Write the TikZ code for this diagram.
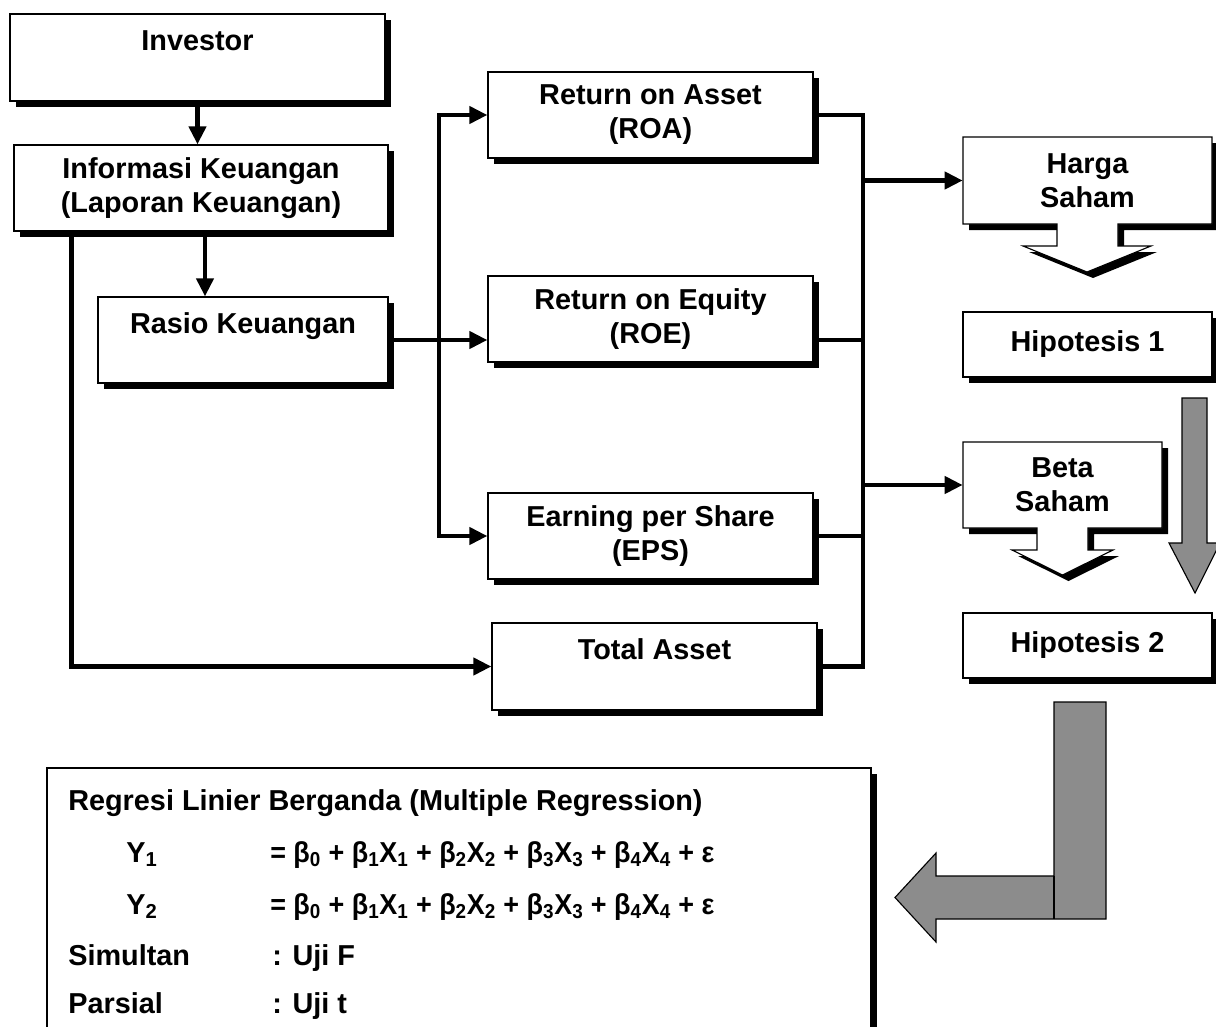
\documentclass[tikz,border=0pt]{standalone}
\usepackage{fontspec}
\usepackage{graphicx}
\setmainfont{Liberation Sans}
\usetikzlibrary{arrows.meta}
\usetikzlibrary{shadows}

\newdimen\pxu \pxu=0.025cm
\newcommand{\regline}{\scalebox{0.935}[1]{= β\textsubscript{0} + β\textsubscript{1}X\textsubscript{1} + β\textsubscript{2}X\textsubscript{2} + β\textsubscript{3}X\textsubscript{3} + β\textsubscript{4}X\textsubscript{4} + ε}}
\tikzset{
  box/.style={draw, line width=0.8pt, fill=white, align=center, inner sep=0pt,
    font=\fontsize{20.5}{24.2}\selectfont\bfseries,
    drop shadow={shadow xshift=6\pxu, shadow yshift=-6\pxu, opacity=1, fill=black}},
  boxtext/.style={align=center, inner sep=0pt, font=\fontsize{20.5}{24.2}\selectfont\bfseries},
  callout/.style={draw, line width=0.8pt, fill=white,
    drop shadow={shadow xshift=6\pxu, shadow yshift=-6\pxu, opacity=1, fill=black}},
  line/.style={line width=3.5pt},
  arr/.style={line width=3.5pt, -{Triangle[length=0.45cm, width=0.42cm]}},
  grayarrow/.style={draw, line width=0.8pt, fill=black!45},
  txt/.style={anchor=base west, inner sep=0pt, font=\fontsize{20.5}{24.2}\selectfont\bfseries}
}

\begin{document}
\begin{tikzpicture}[x=0.025cm, y=-0.025cm]
\useasboundingbox (0,0) rectangle (1216,1026);
% left column
\node[box, minimum width=375\pxu, minimum height=87\pxu] (investor) at (197.5,57.5) {Investor\\~};
\node[box, minimum width=374\pxu, minimum height=86\pxu] (info) at (201,188) {Informasi Keuangan\\(Laporan Keuangan)};
\node[box, minimum width=290\pxu, minimum height=86\pxu] (rasio) at (243,340) {Rasio Keuangan\\~};
% ratios
\node[box, minimum width=325\pxu, minimum height=86\pxu] (roa) at (650.5,115) {Return on Asset\\(ROA)};
\node[box, minimum width=325\pxu, minimum height=86\pxu] (roe) at (650.5,319) {Return on Equity\\(ROE)};
\node[box, minimum width=325\pxu, minimum height=86\pxu] (eps) at (650.5,536) {Earning per Share\\(EPS)};
\node[box, minimum width=325\pxu, minimum height=87\pxu] (total) at (654.5,666.5) {Total Asset\\~};
% harga saham and beta saham
\draw[callout] (963,137) -- (1212,137) -- (1212,224) -- (1118,224) -- (1118,246) -- (1151,246)
  -- (1087,272) -- (1023,246) -- (1057,246) -- (1057,224) -- (963,224) -- cycle;
\node[boxtext, minimum width=249\pxu, minimum height=87\pxu] (harga) at (1087.5,180.5) {Harga\\Saham};
\draw[callout] (963,442) -- (1162,442) -- (1162,528) -- (1088,528) -- (1088,550) -- (1113,550)
  -- (1062.5,575) -- (1012,550) -- (1037,550) -- (1037,528) -- (963,528) -- cycle;
\node[boxtext, minimum width=199\pxu, minimum height=86\pxu] (beta) at (1062.5,485) {Beta\\Saham};
\node[box, minimum width=249\pxu, minimum height=65\pxu] (hipa) at (1087.5,344.5) {Hipotesis 1};
\node[box, minimum width=249\pxu, minimum height=65\pxu] (hipb) at (1087.5,645.5) {Hipotesis 2};
% connectors
\coordinate (lbus) at (439,0);
\coordinate (rbus) at (863,0);
\draw[arr] (investor.south) -- (investor.south |- info.north);
\draw[arr] ([xshift=4\pxu]info.south) -- ([xshift=4\pxu]info.south |- rasio.north);
\draw[arr] ([xshift=58\pxu]info.south west) |- (total.west);
\draw[arr] (rasio.east) -- (roe.west |- rasio.east);
\draw[arr] (lbus |- rasio.east) |- (roa.west);
\draw[arr] (lbus |- rasio.east) |- (eps.west);
\draw[line] (roa.east) -| (rbus |- total.east) -- (total.east);
\draw[line] (roe.east |- rasio.east) -- (rbus |- rasio.east);
\draw[line] (eps.east) -- (rbus |- eps.east);
\draw[arr] (rbus |- harga.west) -- (harga.west);
\draw[arr] (rbus |- beta.west) -- (beta.west);
% gray arrows
\draw[grayarrow] (1182,398) -- (1207,398) -- (1207,543) -- (1220,543) -- (1195,593)
  -- (1169,543) -- (1182,543) -- cycle;
\draw[grayarrow] (1054,702) -- (1106,702) -- (1106,919) -- (936,919) -- (936,942)
  -- (895,897.5) -- (936,853) -- (936,876) -- (1054,876) -- cycle;
\draw[line width=0.8pt] (1054,876) -- (1054,919);
% regression
\draw[callout] (47,768) rectangle (871,1060);
\node[txt] (regresi) at (68,810) {Regresi Linier Berganda (Multiple Regression)};
\node[txt] (ya) at (126,862) {Y\textsubscript{1}};
\node[txt] (eqa) at (270,862) {\regline};
\node[txt] (yb) at (126,914) {Y\textsubscript{2}};
\node[txt] (eqb) at (270,914) {\regline};
\node[txt] (simultan) at (68,965) {Simultan};
\node[txt] (ujif) at (272,965) {: Uji F};
\node[txt] (parsial) at (68,1013) {Parsial};
\node[txt] (ujit) at (272,1013) {: Uji t};
\end{tikzpicture}
\end{document}
